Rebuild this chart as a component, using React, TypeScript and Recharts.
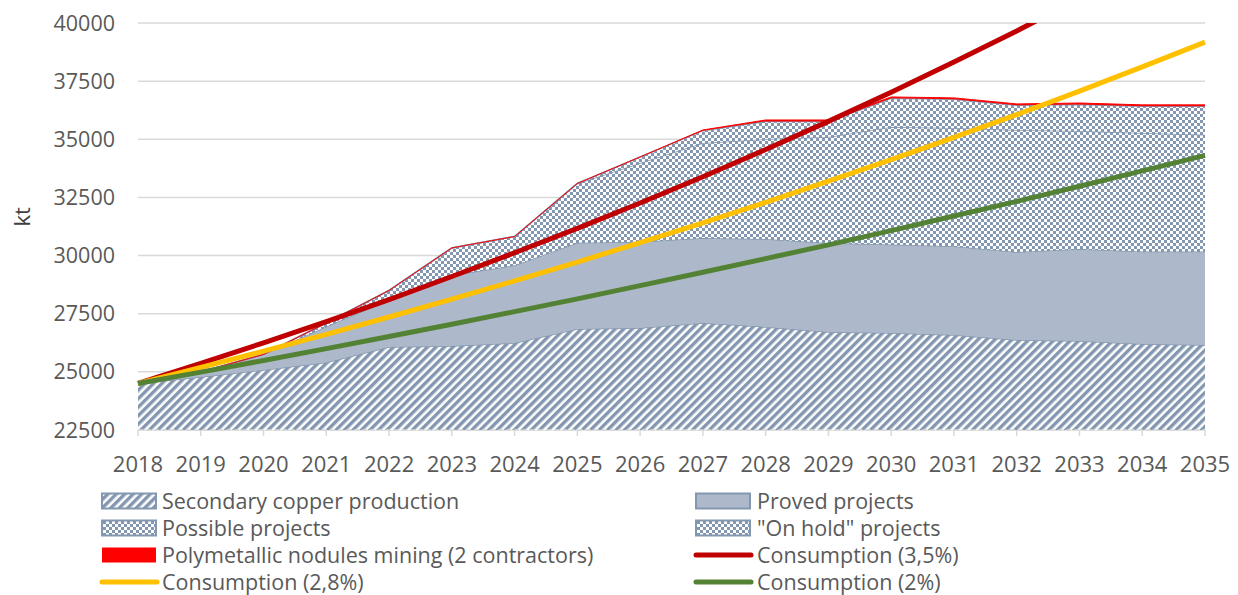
import React from "react";
import { Area, CartesianGrid, ComposedChart, Line, XAxis, YAxis } from "recharts";

const YEARS = [
  "2018", "2019", "2020", "2021", "2022", "2023", "2024", "2025", "2026",
  "2027", "2028", "2029", "2030", "2031", "2032", "2033", "2034", "2035",
];

// stacked layers (kt)
const SECONDARY = [24500, 24780, 25080, 25400, 26070, 26110, 26240, 26840, 26890, 27100, 26930, 26710, 26670, 26590, 26370, 26330, 26200, 26160];
const PROVED = [0, 220, 670, 1550, 2030, 3040, 3340, 3710, 3700, 3660, 3780, 3830, 3810, 3810, 3780, 3950, 3980, 4010];
const POSSIBLE = [0, 0, 0, 150, 400, 1180, 1240, 2550, 3390, 4080, 4300, 4560, 5050, 5090, 5250, 5080, 5090, 5020];
const ON_HOLD = [0, 0, 0, 0, 0, 0, 0, 0, 260, 530, 760, 670, 1230, 1230, 1060, 1140, 1150, 1230];
const NODULES = [0, 0, 0, 0, 0, 0, 0, 0, 0, 30, 60, 60, 60, 60, 60, 60, 60, 60];

// consumption scenarios
const CONS_35 = [24500, 25360, 26250, 27160, 28110, 29100, 30120, 31170, 32260, 33390, 34560, 35770, 37020, 38320, 39660, 41050, 42490, 43980];
const CONS_28 = [24500, 25190, 25890, 26610, 27360, 28130, 28910, 29720, 30560, 31410, 32290, 33200, 34130, 35080, 36060, 37070, 38110, 39180];
const CONS_20 = [24500, 24990, 25490, 26000, 26520, 27050, 27590, 28140, 28710, 29280, 29870, 30460, 31070, 31700, 32330, 32980, 33640, 34310];

const Y_TICKS = [22500, 25000, 27500, 30000, 32500, 35000, 37500, 40000];

const data = YEARS.map((year, i) => ({
  year,
  secondary: SECONDARY[i],
  proved: PROVED[i],
  possible: POSSIBLE[i],
  onHold: ON_HOLD[i],
  nodules: NODULES[i],
  c35: CONS_35[i],
  c28: CONS_28[i],
  c20: CONS_20[i],
}));

const SLATE = "#8497b0";
const PROVED_FILL = "#adb9ca";
const TEXT = "#595959";
const FONT = "'Open Sans', sans-serif";

function Patterns() {
  return (
    <svg width={0} height={0} style={{ position: "absolute" }}>
      <defs>
        <pattern id="stripes" width={6} height={6} patternUnits="userSpaceOnUse" patternTransform="rotate(45)">
          <rect width={6} height={6} fill="#fff" />
          <rect width={3.4} height={6} fill={SLATE} />
        </pattern>
        <pattern id="checker" width={6} height={6} patternUnits="userSpaceOnUse">
          <rect width={6} height={6} fill="#fff" />
          <rect width={3} height={3} fill={SLATE} />
          <rect x={3} y={3} width={3} height={3} fill={SLATE} />
        </pattern>
      </defs>
    </svg>
  );
}

type LegendItem = { label: string; kind: "rect" | "line"; fill?: string; border?: string; color?: string };

const LEFT_ITEMS: LegendItem[] = [
  { label: "Secondary copper production", kind: "rect", fill: "url(#stripes)", border: SLATE },
  { label: "Possible projects", kind: "rect", fill: "url(#checker)", border: SLATE },
  { label: "Polymetallic nodules mining (2 contractors)", kind: "rect", fill: "#ff0000" },
  { label: "Consumption (2,8%)", kind: "line", color: "#ffc000" },
];
const RIGHT_ITEMS: LegendItem[] = [
  { label: "Proved projects", kind: "rect", fill: PROVED_FILL, border: SLATE },
  { label: '"On hold" projects', kind: "rect", fill: "url(#checker)", border: SLATE },
  { label: "Consumption (3,5%)", kind: "line", color: "#c00000" },
  { label: "Consumption (2%)", kind: "line", color: "#548235" },
];

function LegendColumn({ items, left, iconLeft }: { items: LegendItem[]; left: number; iconLeft: number }) {
  return (
    <>
      {items.map((it, i) => {
        const cy = 500.5 + i * 27.2;
        return (
          <React.Fragment key={it.label}>
            <svg
              width={60}
              height={20}
              style={{ position: "absolute", left: iconLeft - 2, top: cy - 10, overflow: "visible" }}
            >
              {it.kind === "rect" ? (
                <rect
                  x={2}
                  y={2.5}
                  width={54}
                  height={15}
                  fill={it.fill}
                  stroke={it.border ?? "none"}
                  strokeWidth={it.border ? 2 : 0}
                />
              ) : (
                <line x1={2} y1={10} x2={57} y2={10} stroke={it.color} strokeWidth={5} strokeLinecap="round" />
              )}
            </svg>
            <div
              style={{
                position: "absolute",
                left,
                top: cy - 14,
                height: 28,
                lineHeight: "28px",
                fontSize: 21.5,
                fontFamily: FONT,
                color: TEXT,
                whiteSpace: "nowrap",
              }}
            >
              {it.label}
            </div>
          </React.Fragment>
        );
      })}
    </>
  );
}

export default function App() {
  return (
    <div style={{ position: "absolute", left: 0, top: 0, width: 1238, height: 595, overflow: "hidden", background: "#fff" }}>
      <Patterns />
      <ComposedChart
        width={1238}
        height={595}
        data={data}
        margin={{ top: 23, right: 33, left: 0, bottom: 105 }}
        style={{ fontFamily: FONT }}
      >
        <CartesianGrid vertical={false} stroke="#d9d9d9" strokeWidth={1.5} />
        <XAxis
          dataKey="year"
          height={60}
          axisLine={{ stroke: "#d9d9d9", strokeWidth: 1.5, strokeDasharray: "5 3" }}
          tickLine={{ stroke: "#d9d9d9", strokeWidth: 1.5 }}
          tickSize={6}
          tickMargin={20}
          tick={{ fill: TEXT, fontSize: 22 }}
          interval={0}
        />
        <YAxis
          width={138}
          domain={[22500, 40000]}
          ticks={Y_TICKS}
          allowDataOverflow
          axisLine={false}
          tickLine={false}
          tickSize={0}
          tickMargin={23}
          tick={{ fill: TEXT, fontSize: 21.5 }}
          label={{ value: "kt", angle: -90, position: "insideLeft", offset: 22, fill: "#404040", fontSize: 22 }}
        />
        <Area dataKey="secondary" stackId="s" type="linear" fill="url(#stripes)" fillOpacity={1} stroke={SLATE} strokeWidth={1.5} isAnimationActive={false} />
        <Area dataKey="proved" stackId="s" type="linear" fill={PROVED_FILL} fillOpacity={1} stroke={SLATE} strokeWidth={1.5} isAnimationActive={false} />
        <Area dataKey="possible" stackId="s" type="linear" fill="url(#checker)" fillOpacity={1} stroke={SLATE} strokeWidth={1.5} isAnimationActive={false} />
        <Area dataKey="onHold" stackId="s" type="linear" fill="url(#checker)" fillOpacity={1} stroke={SLATE} strokeWidth={1.5} isAnimationActive={false} />
        <Area dataKey="nodules" stackId="s" type="linear" fill="#ff0000" fillOpacity={1} stroke="#ff0000" strokeWidth={1} isAnimationActive={false} />
        <Line dataKey="c35" type="linear" stroke="#c00000" strokeWidth={5} dot={false} isAnimationActive={false} />
        <Line dataKey="c28" type="linear" stroke="#ffc000" strokeWidth={5} dot={false} isAnimationActive={false} />
        <Line dataKey="c20" type="linear" stroke="#548235" strokeWidth={5} dot={false} isAnimationActive={false} />
      </ComposedChart>
      <LegendColumn items={LEFT_ITEMS} left={162} iconLeft={102} />
      <LegendColumn items={RIGHT_ITEMS} left={757} iconLeft={696} />
    </div>
  );
}
